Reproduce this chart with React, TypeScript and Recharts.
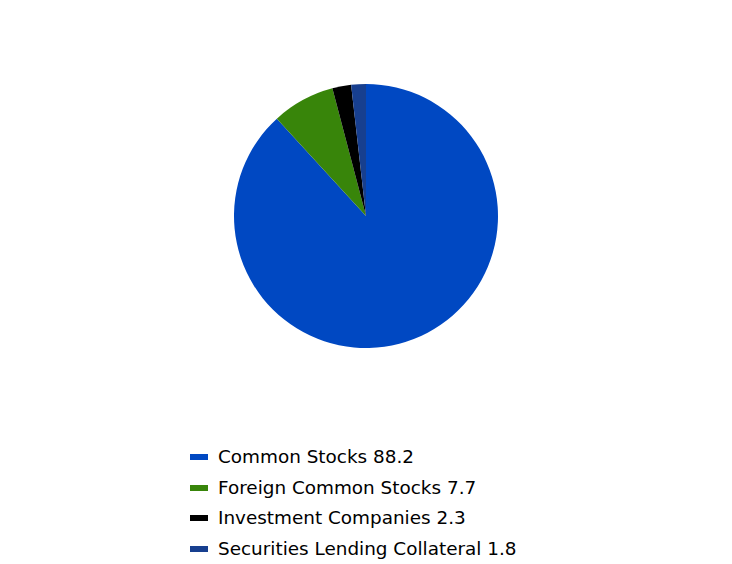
import React from "react";
import { PieChart, Pie, Cell, Legend } from "recharts";

const categories = ["Common Stocks", "Foreign Common Stocks", "Investment Companies", "Securities Lending Collateral"];
const values = [88.2, 7.7, 2.3, 1.8];
const colors = ["#0048C2", "#38850A", "#000000", "#173F8F"];

const data = categories.map((name, i) => ({ name, value: values[i] }));

const renderLegend = () => (
  <div style={{ fontFamily: "'DejaVu Sans', sans-serif", fontSize: 18.4, color: "#000" }}>
    {data.map((d, i) => (
      <div key={d.name} style={{ height: 30.5, lineHeight: "30.5px", display: "flex", alignItems: "center", whiteSpace: "nowrap" }}>
        <span style={{ display: "inline-block", width: 18, height: 6, background: colors[i], marginRight: 10 }} />
        <span>{`${d.name} ${d.value}`}</span>
      </div>
    ))}
  </div>
);

export default function App() {
  return (
    <PieChart width={732} height={564}>
      <Pie
        data={data}
        dataKey="value"
        nameKey="name"
        cx={353}
        cy={203}
        outerRadius={132}
        startAngle={90}
        endAngle={-270}
        stroke="none"
        isAnimationActive={false}
      >
        {data.map((d, i) => (
          <Cell key={d.name} fill={colors[i]} />
        ))}
      </Pie>
      <Legend
        content={renderLegend}
        layout="vertical"
        wrapperStyle={{ position: "absolute", left: 182, top: 434, width: 450 }}
      />
    </PieChart>
  );
}
